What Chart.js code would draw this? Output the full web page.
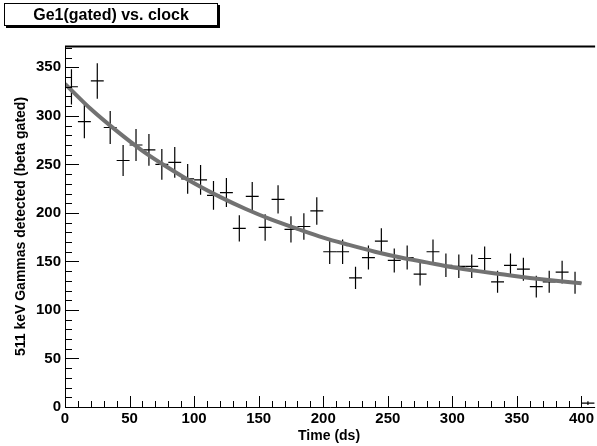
<!DOCTYPE html>
<html><head><meta charset="utf-8">
<script src="https://cdn.jsdelivr.net/npm/chart.js@4"></script>
<style>
html,body{margin:0;padding:0;background:#fff;}
#wrap{position:relative;width:597px;height:446px;overflow:hidden;}
#title{position:absolute;left:4px;top:3px;width:212px;height:21px;border:1px solid #000;box-shadow:2px 2px 0 #000;background:#fff;font:bold 16px "Liberation Sans",Arial,sans-serif;text-align:center;line-height:21px;color:#000;}
</style></head><body>
<div id="wrap"><canvas id="c" width="597" height="446"></canvas><div id="title">Ge1(gated) vs. clock</div></div>
<script>
// ---- data ----
const binCenters = [5,15,25,35,45,55,65,75,85,95,105,115,125,135,145,155,165,175,185,195,205,215,225,235,245,255,265,275,285,295,305,315,325,335,345,355,365,375,385,395,405];
const counts = [330,294,336,288,254,270,265,250,252,235,234,218,221,184,217,185,214,183,186,202,160,160,133,154,171,151,154,137,160,146,145,145,153,129,146,142,124,129,139,128,4];
const binHalfWidth = 5;
const fitX = [0,20,40,60,80,100,120,140,160,180,200,220,240,260,280,300,320,340,360,380,400];
const fitY = [333,307,284.5,264,246.5,230.5,216.5,204,193,183.5,174.5,167,160,154,149,144,140,136.5,133,130,127.5];
const xTickLabels = [0,50,100,150,200,250,300,350,400];
const yTickLabels = [0,50,100,150,200,250,300,350];
const xAxisTitle = 'Time (ds)';
const yAxisTitle = '511 keV Gammas detected (beta gated)';

const FONT = '"Liberation Sans", Arial, Helvetica, sans-serif';

const rootPlugin = {
  id: 'rootStyle',
  beforeDatasetsDraw(chart) {
    const {ctx, scales: {x, y}} = chart;
    ctx.save();
    ctx.strokeStyle = '#000';
    ctx.lineWidth = 1.2;
    counts.forEach((n, i) => {
      const c = binCenters[i];
      const cx = x.getPixelForValue(c), cy = y.getPixelForValue(n);
      const x0 = x.getPixelForValue(c - binHalfWidth), x1 = x.getPixelForValue(c + binHalfWidth);
      const e = Math.sqrt(n);
      const y0 = y.getPixelForValue(n - e), y1 = y.getPixelForValue(n + e);
      ctx.beginPath();
      ctx.moveTo(x0, cy); ctx.lineTo(x1, cy);
      ctx.moveTo(cx, y0); ctx.lineTo(cx, y1);
      ctx.stroke();
    });
    ctx.restore();
  },
  afterDraw(chart) {
    const {ctx, chartArea: a, scales: {x, y}} = chart;
    ctx.save();
    ctx.strokeStyle = '#000';
    ctx.lineWidth = 1;
    ctx.beginPath();
    ctx.moveTo(a.left + 0.5, a.top); ctx.lineTo(a.left + 0.5, a.bottom + 0.5);
    ctx.lineTo(a.right + 2, a.bottom + 0.5);
    ctx.stroke();
    ctx.lineWidth = 2;
    ctx.beginPath();
    ctx.moveTo(a.left, a.top + 0.5); ctx.lineTo(a.right + 2, a.top + 0.5);
    ctx.stroke();
    ctx.lineWidth = 1;
    ctx.beginPath();
    for (let v = 0; v <= x.max; v += 10) {
      const px = Math.round(x.getPixelForValue(v)) + 0.5;
      const len = (v % 50 === 0) ? 11 : 6;
      ctx.moveTo(px, a.bottom); ctx.lineTo(px, a.bottom - len);
    }
    for (let v = 0; v <= y.max; v += 10) {
      const py = Math.round(y.getPixelForValue(v)) + 0.5;
      const len = (v % 50 === 0) ? 14 : 7;
      ctx.moveTo(a.left, py); ctx.lineTo(a.left + len, py);
    }
    ctx.stroke();
    ctx.restore();
  }
};

new Chart(document.getElementById('c'), {
  type: 'scatter',
  data: {
    datasets: [
      {
        label: 'data',
        data: binCenters.map((c, i) => ({x: c, y: counts[i]})),
        pointRadius: 0,
        showLine: false
      },
      {
        label: 'fit',
        data: fitX.map((v, i) => ({x: v, y: fitY[i]})),
        showLine: true,
        borderColor: '#727272',
        borderWidth: 4,
        pointRadius: 0,
        tension: 0.4,
        cubicInterpolationMode: 'monotone',
        fill: false
      }
    ]
  },
  options: {
    responsive: false,
    animation: false,
    devicePixelRatio: 1,
    layout: {padding: {top: 46, right: 0, left: 0, bottom: 0}},
    plugins: {legend: {display: false}, tooltip: {enabled: false}, title: {display: false}},
    scales: {
      x: {
        type: 'linear',
        min: 0, max: 409,
        grid: {display: false, drawTicks: false},
        border: {display: false},
        afterBuildTicks: s => { s.ticks = xTickLabels.map(v => ({value: v})); },
        afterFit: s => { s.height = 39; },
        ticks: {color: '#000', padding: 3, maxRotation: 0, autoSkip: false, font: {family: FONT, size: 15, weight: 'bold'}},
        title: {display: true, text: xAxisTitle, color: '#000', padding: {top: 0, bottom: 1}, font: {family: FONT, size: 14, weight: 'bold'}}
      },
      y: {
        type: 'linear',
        min: 0, max: 372,
        grid: {display: false, drawTicks: false},
        border: {display: false},
        afterBuildTicks: s => { s.ticks = yTickLabels.map(v => ({value: v})); },
        afterFit: s => { s.width = 65; },
        ticks: {color: '#000', padding: 4, autoSkip: false, font: {family: FONT, size: 15, weight: 'bold'}},
        title: {display: true, text: yAxisTitle, color: '#000', padding: {top: 13, bottom: 0}, font: {family: FONT, size: 14, weight: 'bold'}}
      }
    }
  },
  plugins: [rootPlugin]
});
</script>
</body></html>
